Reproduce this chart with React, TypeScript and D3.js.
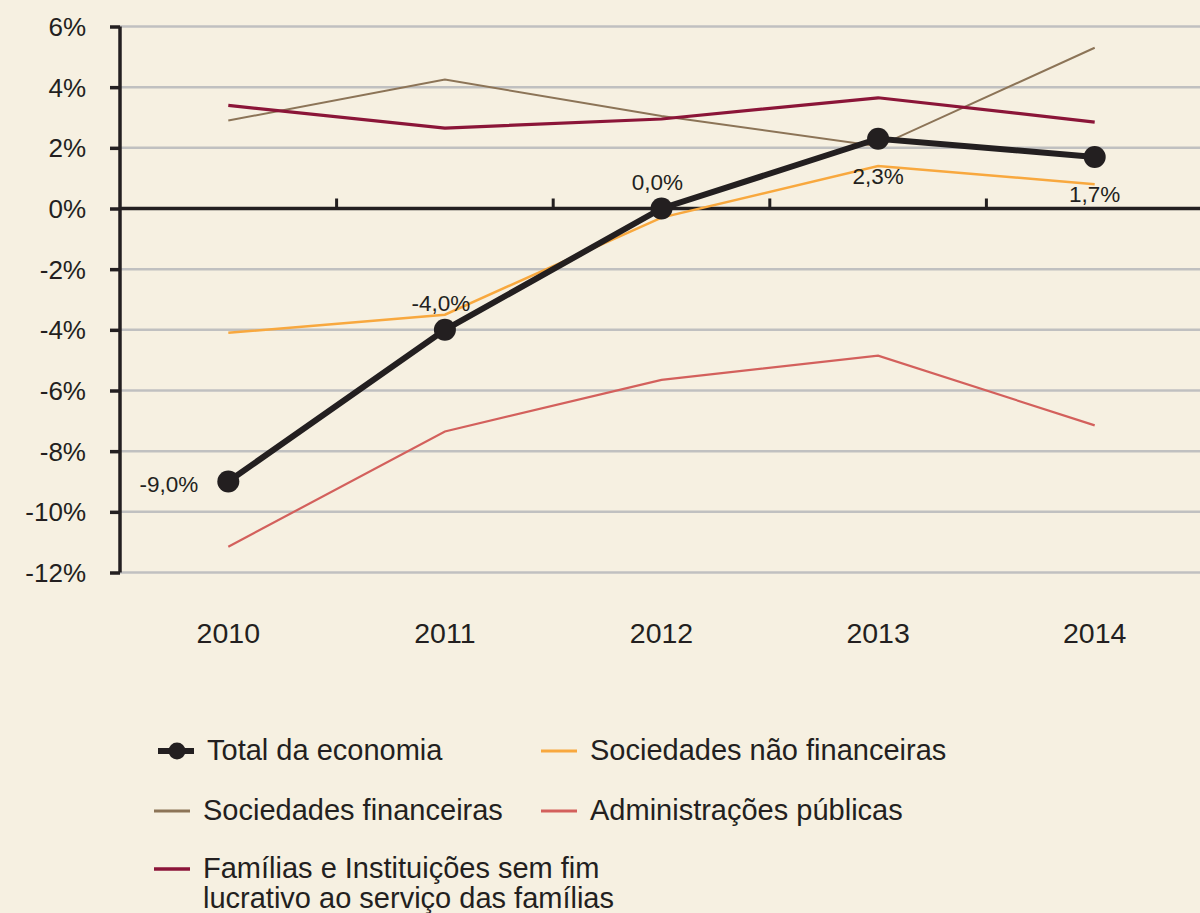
import React, { useRef, useEffect } from "react";
import * as d3 from "d3";

const years = ["2010", "2011", "2012", "2013", "2014"];
const yTicks = [6, 4, 2, 0, -2, -4, -6, -8, -10, -12];

const total = [-9.0, -4.0, 0.0, 2.3, 1.7];
const naoFinanceiras = [-4.1, -3.5, -0.3, 1.4, 0.8];
const financeiras = [2.9, 4.25, 3.05, 2.05, 5.3];
const familias = [3.4, 2.65, 2.95, 3.65, 2.85];
const administracoes = [-11.15, -7.35, -5.65, -4.85, -7.15];

const totalLabels = ["-9,0%", "-4,0%", "0,0%", "2,3%", "1,7%"];
const labelPlace = ["left", "above", "above", "below", "below"];

const series = [
  { name: "Sociedades financeiras", values: financeiras, color: "#8c7457", width: 2 },
  { name: "Administrações públicas", values: administracoes, color: "#d3605c", width: 2.2 },
  { name: "Sociedades não financeiras", values: naoFinanceiras, color: "#f8a83e", width: 2.5 },
  { name: "Famílias e Instituições sem fim lucrativo ao serviço das famílias", values: familias, color: "#8b1538", width: 3.2 },
];

const BG = "#f6f0e1";
const INK = "#231f20";
const FONT = "'Liberation Sans', Arial, sans-serif";

const App = () => {
  const svgRef = useRef<SVGSVGElement>(null);

  useEffect(() => {
    const svg = d3.select(svgRef.current);
    svg.selectAll("*").remove();

    const x = d3.scaleBand().domain(years).range([120, 1203]).paddingInner(0);
    const y = d3.scaleLinear().domain([-12, 6]).range([572.5, 26.5]);
    const cx = (i: number) => (x(years[i]) as number) + x.bandwidth() / 2;

    svg.append("rect").attr("width", 1200).attr("height", 913).attr("fill", BG);

    // gridlines
    svg
      .append("g")
      .selectAll("line")
      .data(yTicks.filter((d) => d !== 0))
      .join("line")
      .attr("x1", 120)
      .attr("x2", 1200)
      .attr("y1", (d) => y(d))
      .attr("y2", (d) => y(d))
      .attr("stroke", "#c0c0c0")
      .attr("stroke-width", 2.5);

    // y axis
    const yAxis = svg
      .append("g")
      .attr("transform", "translate(120,0)")
      .call(
        d3
          .axisLeft(y)
          .tickValues(yTicks)
          .tickSize(10)
          .tickPadding(24)
          .tickFormat((d) => `${d}%`)
      );
    yAxis.select(".domain").attr("stroke", INK).attr("stroke-width", 3.5).attr("d", `M0,${y(-12)}V${y(6)}`);
    yAxis.selectAll(".tick line").attr("stroke", INK).attr("stroke-width", 3.5);
    yAxis
      .selectAll(".tick text")
      .attr("fill", INK)
      .attr("font-size", 26)
      .attr("font-family", FONT)
      .attr("dy", "0.34em");

    // zero line with ticks
    svg
      .append("line")
      .attr("x1", 120)
      .attr("x2", 1200)
      .attr("y1", y(0))
      .attr("y2", y(0))
      .attr("stroke", INK)
      .attr("stroke-width", 3.5);
    svg
      .append("g")
      .selectAll("line")
      .data(years.slice(1))
      .join("line")
      .attr("x1", (d) => x(d) as number)
      .attr("x2", (d) => x(d) as number)
      .attr("y1", y(0))
      .attr("y2", y(0) - 10)
      .attr("stroke", INK)
      .attr("stroke-width", 3);

    // x labels
    svg
      .append("g")
      .selectAll("text")
      .data(years)
      .join("text")
      .attr("x", (d, i) => cx(i))
      .attr("y", 643)
      .attr("text-anchor", "middle")
      .attr("font-size", 28.5)
      .attr("font-family", FONT)
      .attr("fill", INK)
      .text((d) => d);

    const line = d3
      .line<number>()
      .x((d, i) => cx(i))
      .y((d) => y(d));

    series.forEach((s) => {
      svg
        .append("path")
        .datum(s.values)
        .attr("fill", "none")
        .attr("stroke", s.color)
        .attr("stroke-width", s.width)
        .attr("d", line);
    });

    svg
      .append("path")
      .datum(total)
      .attr("fill", "none")
      .attr("stroke", INK)
      .attr("stroke-width", 6)
      .attr("d", line);
    svg
      .append("g")
      .selectAll("circle")
      .data(total)
      .join("circle")
      .attr("cx", (d, i) => cx(i))
      .attr("cy", (d) => y(d))
      .attr("r", 11)
      .attr("fill", INK);

    // data labels
    svg
      .append("g")
      .selectAll("text")
      .data(total)
      .join("text")
      .attr("x", (d, i) => (labelPlace[i] === "left" ? cx(i) - 30 : cx(i) + (labelPlace[i] === "above" ? -4 : 0)))
      .attr("y", (d, i) => y(d) + (labelPlace[i] === "left" ? 10 : labelPlace[i] === "above" ? -19 : 45))
      .attr("text-anchor", (d, i) => (labelPlace[i] === "left" ? "end" : "middle"))
      .attr("font-size", 22.5)
      .attr("font-family", FONT)
      .attr("fill", INK)
      .text((d, i) => totalLabels[i]);

    // legend
    const legend = [
      { name: "Total da economia", color: INK, width: 6, dot: true, x: 158, y: 751 },
      { name: "Sociedades não financeiras", color: "#f8a83e", width: 3, dot: false, x: 541, y: 751 },
      { name: "Sociedades financeiras", color: "#8c7457", width: 3, dot: false, x: 154, y: 811 },
      { name: "Administrações públicas", color: "#d3605c", width: 3, dot: false, x: 541, y: 811 },
      { name: "Famílias e Instituições sem fim|lucrativo ao serviço das famílias", color: "#8b1538", width: 3.5, dot: false, x: 154, y: 869 },
    ];
    const lg = svg.append("g").selectAll("g").data(legend).join("g").attr("transform", (d) => `translate(${d.x},${d.y})`);
    lg.append("line")
      .attr("x1", 0)
      .attr("x2", 36)
      .attr("stroke", (d) => d.color)
      .attr("stroke-width", (d) => d.width);
    lg.filter((d) => d.dot)
      .append("circle")
      .attr("cx", 19)
      .attr("r", 8.5)
      .attr("fill", INK);
    const lt = lg
      .append("text")
      .attr("x", 49)
      .attr("y", 9)
      .attr("font-size", 29)
      .attr("font-family", FONT)
      .attr("fill", INK);
    lt.selectAll("tspan")
      .data((d) => d.name.split("|"))
      .join("tspan")
      .attr("x", 49)
      .attr("dy", (d, i) => (i === 0 ? 0 : 30))
      .text((d) => d);
  }, []);

  return (
    <div style={{ position: "absolute", left: 0, top: 0 }}>
      <svg ref={svgRef} width={1200} height={913} style={{ display: "block" }}></svg>
    </div>
  );
};

export default App;
